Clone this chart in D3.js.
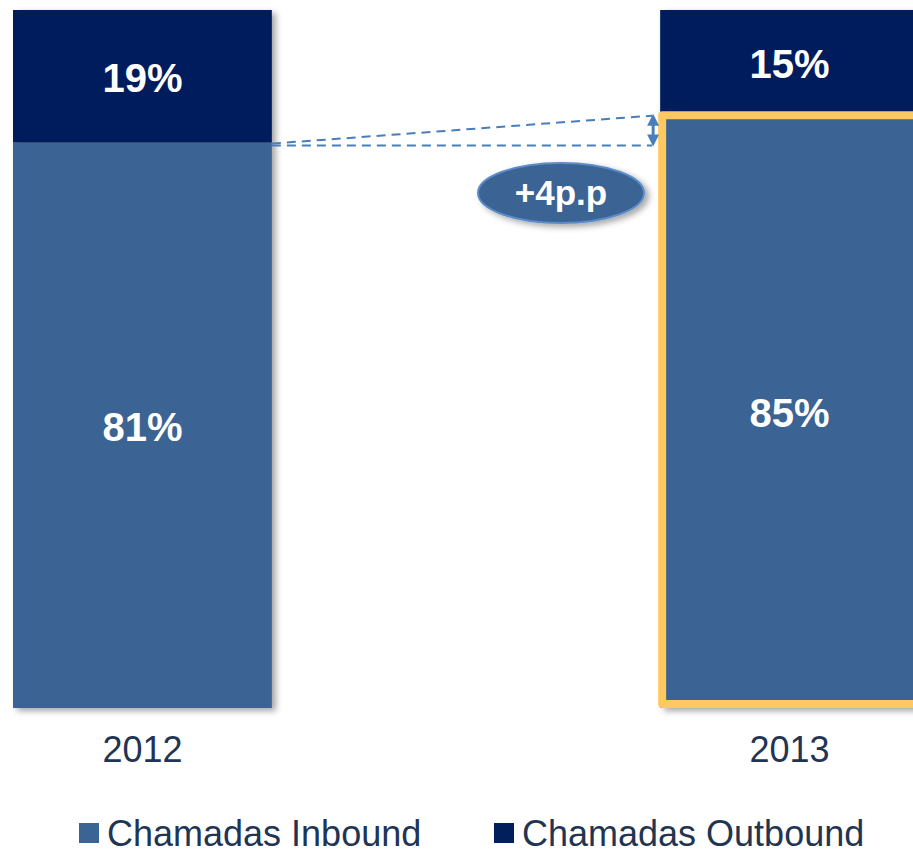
<!DOCTYPE html>
<html>
<head>
<meta charset="utf-8">
<script src="https://cdn.jsdelivr.net/npm/d3@7"></script>
<style>
  body { margin: 0; background: #fff; }
  svg { display: block; font-family: "Liberation Sans", Arial, sans-serif; }
</style>
</head>
<body>
<div id="chart"></div>
<script>
const years = ['2012', '2013'];
const inbound = [81, 85];
const outbound = [19, 15];
const seriesNames = ['Chamadas Inbound', 'Chamadas Outbound'];
const seriesColors = ['#3a6494', '#001f5b'];

const width = 913, height = 853;

const svg = d3.select('#chart')
    .append('svg')
    .attr('width', width)
    .attr('height', height);

const defs = svg.append('defs');
const shadow = defs.append('filter')
    .attr('id', 'shadow')
    .attr('x', '-10%').attr('y', '-10%')
    .attr('width', '130%').attr('height', '130%');
shadow.append('feDropShadow')
    .attr('dx', 4).attr('dy', 3)
    .attr('stdDeviation', 3)
    .attr('flood-color', '#000')
    .attr('flood-opacity', 0.35);

const x = d3.scaleBand()
    .domain(years)
    .range([13, 919])
    .paddingInner(0.6);

const y = d3.scaleLinear()
    .domain([0, 100])
    .range([708, 10]);

const bw = x.bandwidth();

// stacked bars
const bars = svg.append('g')
    .selectAll('g')
    .data(years)
    .join('g')
    .attr('filter', 'url(#shadow)');

bars.append('rect')
    .attr('x', d => x(d))
    .attr('y', (d, i) => y(inbound[i]))
    .attr('width', bw)
    .attr('height', (d, i) => y(0) - y(inbound[i]))
    .attr('fill', seriesColors[0]);

bars.append('rect')
    .attr('x', d => x(d))
    .attr('y', (d, i) => y(inbound[i] + outbound[i]))
    .attr('width', bw)
    .attr('height', (d, i) => y(inbound[i]) - y(inbound[i] + outbound[i]))
    .attr('fill', seriesColors[1]);

// highlight on 2013 inbound
svg.append('rect')
    .attr('x', x('2013') + 2)
    .attr('y', y(inbound[1]) + 0.5)
    .attr('width', bw)
    .attr('height', y(0) - y(inbound[1]) - 4.5)
    .attr('fill', 'none')
    .attr('stroke', '#ffc95f')
    .attr('stroke-width', 8)
    .attr('stroke-linejoin', 'round');

// value labels
const labels = svg.append('g')
    .attr('fill', '#fff')
    .attr('font-weight', 'bold')
    .attr('font-size', 40)
    .attr('text-anchor', 'middle');

years.forEach((yr, i) => {
    labels.append('text')
        .attr('x', x(yr) + bw / 2)
        .attr('y', (y(0) + y(inbound[i])) / 2 + 2)
        .attr('dy', '0.35em')
        .text(inbound[i] + '%');
    labels.append('text')
        .attr('x', x(yr) + bw / 2)
        .attr('y', (y(inbound[i]) + y(100)) / 2 + 2)
        .attr('dy', '0.35em')
        .text(outbound[i] + '%');
});

// x axis labels
const xAxis = svg.append('g')
    .attr('transform', `translate(0,${y(0)})`)
    .call(d3.axisBottom(x).tickSize(0).tickPadding(28));
xAxis.select('.domain').remove();
xAxis.selectAll('text')
    .attr('font-size', 36)
    .attr('font-family', '"Liberation Sans", Arial, sans-serif')
    .attr('fill', '#1f3553');

// change annotation
const x1 = x('2012') + bw;
const x2 = x('2013') - 8;
const yLow = y(inbound[0]) + 3;
const yHigh = y(inbound[1]) + 1;
const ann = svg.append('g')
    .attr('stroke', '#4a7ebb')
    .attr('stroke-width', 2)
    .attr('stroke-dasharray', '9,6')
    .attr('fill', 'none');
ann.append('line')
    .attr('x1', x1).attr('y1', yLow)
    .attr('x2', x2).attr('y2', yLow);
ann.append('line')
    .attr('x1', x1).attr('y1', y(inbound[0]) + 1)
    .attr('x2', x2).attr('y2', yHigh);

// double-headed arrow
const ax = x2 + 1;
const arrow = svg.append('g').attr('fill', '#4a7ebb');
arrow.append('line')
    .attr('x1', ax).attr('x2', ax)
    .attr('y1', yHigh + 8).attr('y2', yLow - 8)
    .attr('stroke', '#4a7ebb')
    .attr('stroke-width', 3);
arrow.append('path')
    .attr('d', `M${ax},${yHigh - 2} L${ax + 6},${yHigh + 10} L${ax - 6},${yHigh + 10} Z`);
arrow.append('path')
    .attr('d', `M${ax},${yLow + 1} L${ax + 6},${yLow - 11} L${ax - 6},${yLow - 11} Z`);

const bubble = svg.append('g')
    .attr('transform', 'translate(561,193)');
bubble.append('ellipse')
    .attr('rx', 83).attr('ry', 30)
    .attr('fill', '#3a6494')
    .attr('stroke', '#5b8bc9')
    .attr('stroke-width', 2)
    .attr('filter', 'url(#shadow)');
bubble.append('text')
    .attr('text-anchor', 'middle')
    .attr('dy', '0.35em')
    .attr('fill', '#fff')
    .attr('font-weight', 'bold')
    .attr('font-size', 35)
    .text('+' + (inbound[1] - inbound[0]) + 'p.p');

// legend
const legendX = [79, 494];
const legend = svg.append('g')
    .selectAll('g')
    .data(seriesNames)
    .join('g')
    .attr('transform', (d, i) => `translate(${legendX[i]},823)`);
legend.append('rect')
    .attr('width', 20).attr('height', 20)
    .attr('fill', (d, i) => seriesColors[i]);
legend.append('text')
    .attr('x', 28).attr('y', 10)
    .attr('dy', '0.35em')
    .attr('font-size', 36)
    .attr('fill', '#1f3553')
    .text(d => d);
</script>
</body>
</html>
